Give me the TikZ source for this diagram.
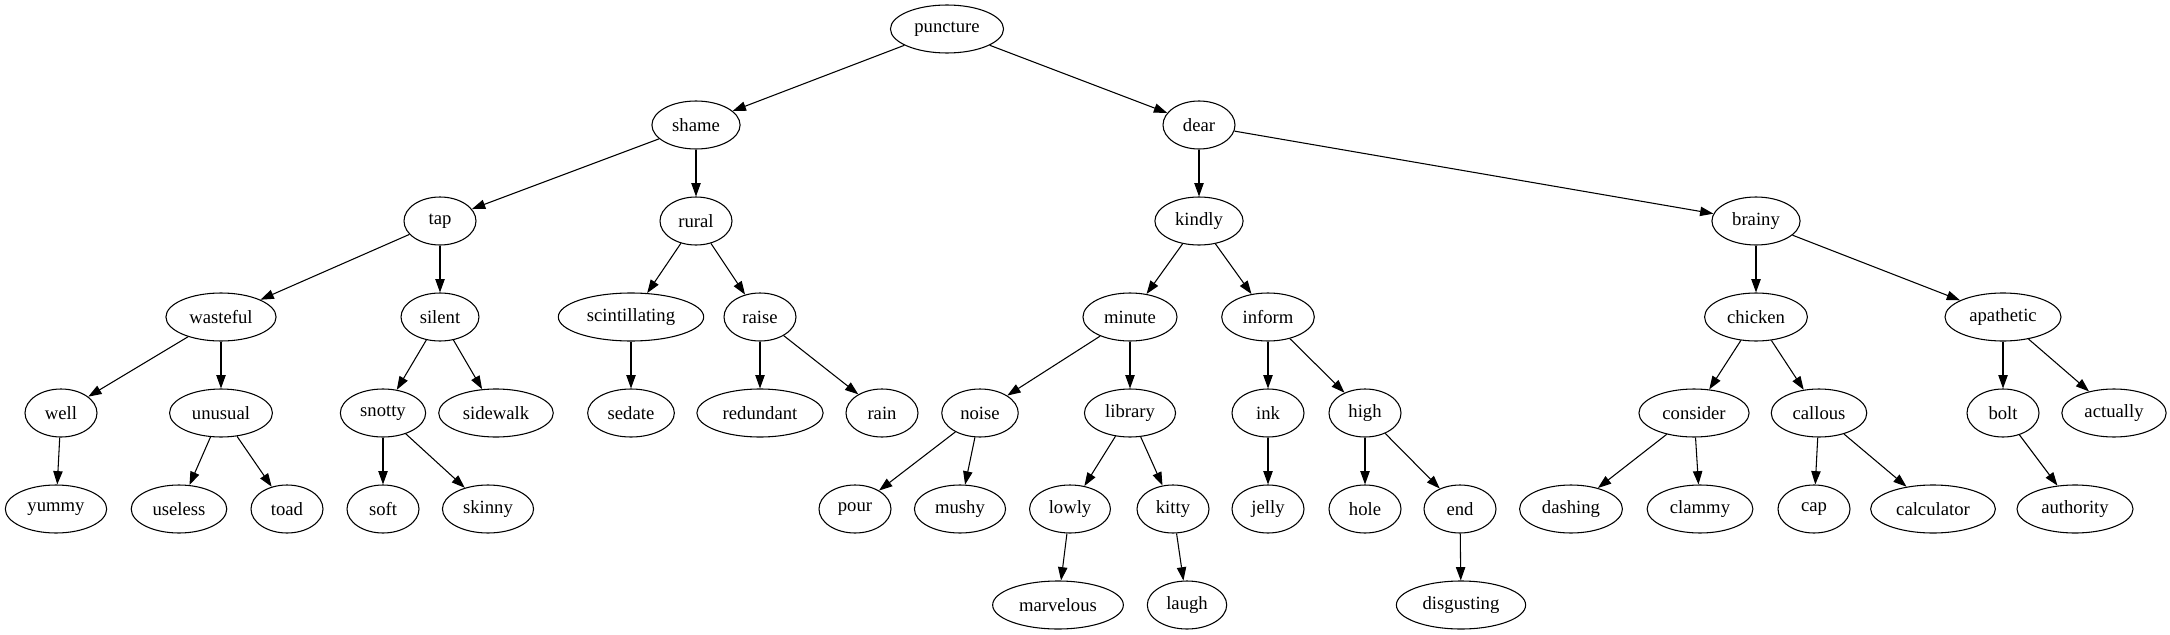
\documentclass[tikz,border=0pt]{standalone}
\usepackage{fontspec}
\setmainfont{Liberation Serif}
\usepackage{tikz}
\usetikzlibrary{arrows.meta, shapes.geometric}

\begin{document}
\begin{tikzpicture}[
  x=0.75pt, y=0.75pt,
  word/.style={draw, ellipse, line width=0.8pt, minimum width=54pt, minimum height=36pt,
    inner xsep=5.5pt, inner ysep=1pt, font=\fontsize{14pt}{16pt}\selectfont},
  edge/.style={-{Triangle[length=10pt, width=7pt]}, line width=0.8pt},
]

% --- Canvas ---
\useasboundingbox (0, 0) rectangle (2170, -635);

% Row heights (one per rank)
\def\rowA{-29}
\def\rowB{-125}
\def\rowC{-221}
\def\rowD{-317}
\def\rowE{-413}
\def\rowF{-509}
\def\rowG{-605}

% Rank 1
\node[word] (puncture) at (947, \rowA) {puncture};

% Rank 2
\node[word] (shame) at (696, \rowB) {shame};
\node[word] (dear) at (1199, \rowB) {dear};

% Rank 3
\node[word] (tap) at (440, \rowC) {tap};
\node[word] (rural) at (696, \rowC) {rural};
\node[word] (kindly) at (1199, \rowC) {kindly};
\node[word] (brainy) at (1756, \rowC) {brainy};

% Rank 4
\node[word] (wasteful) at (221, \rowD) {wasteful};
\node[word] (silent) at (440, \rowD) {silent};
\node[word] (scintillating) at (631, \rowD) {scintillating};
\node[word] (raise) at (760, \rowD) {raise};
\node[word] (minute) at (1130, \rowD) {minute};
\node[word] (inform) at (1268, \rowD) {inform};
\node[word] (chicken) at (1756, \rowD) {chicken};
\node[word] (apathetic) at (2003, \rowD) {apathetic};

% Rank 5
\node[word] (well) at (61, \rowE) {well};
\node[word] (unusual) at (221, \rowE) {unusual};
\node[word] (snotty) at (383, \rowE) {snotty};
\node[word] (sidewalk) at (496, \rowE) {sidewalk};
\node[word] (sedate) at (631, \rowE) {sedate};
\node[word] (redundant) at (760, \rowE) {redundant};
\node[word] (rain) at (882, \rowE) {rain};
\node[word] (noise) at (980, \rowE) {noise};
\node[word] (library) at (1130, \rowE) {library};
\node[word] (ink) at (1268, \rowE) {ink};
\node[word] (high) at (1365, \rowE) {high};
\node[word] (consider) at (1694, \rowE) {consider};
\node[word] (callous) at (1819, \rowE) {callous};
\node[word] (bolt) at (2003, \rowE) {bolt};
\node[word] (actually) at (2114, \rowE) {actually};

% Rank 6
\node[word] (yummy) at (56, \rowF) {yummy};
\node[word] (useless) at (179, \rowF) {useless};
\node[word] (toad) at (287, \rowF) {toad};
\node[word] (soft) at (383, \rowF) {soft};
\node[word] (skinny) at (488, \rowF) {skinny};
\node[word] (pour) at (855, \rowF) {pour};
\node[word] (mushy) at (960, \rowF) {mushy};
\node[word] (lowly) at (1070, \rowF) {lowly};
\node[word] (kitty) at (1173, \rowF) {kitty};
\node[word] (jelly) at (1268, \rowF) {jelly};
\node[word] (hole) at (1365, \rowF) {hole};
\node[word] (end) at (1460, \rowF) {end};
\node[word] (dashing) at (1571, \rowF) {dashing};
\node[word] (clammy) at (1700, \rowF) {clammy};
\node[word] (cap) at (1814, \rowF) {cap};
\node[word] (calculator) at (1933, \rowF) {calculator};
\node[word] (authority) at (2075, \rowF) {authority};

% Rank 7
\node[word] (marvelous) at (1058, \rowG) {marvelous};
\node[word] (laugh) at (1187, \rowG) {laugh};
\node[word] (disgusting) at (1461, \rowG) {disgusting};

% --- Edges ---
\draw[edge] (puncture) -- (shame);
\draw[edge] (puncture) -- (dear);
\draw[edge] (shame) -- (tap);
\draw[edge] (shame) -- (rural);
\draw[edge] (dear) -- (kindly);
\draw[edge] (dear) -- (brainy);
\draw[edge] (tap) -- (wasteful);
\draw[edge] (tap) -- (silent);
\draw[edge] (rural) -- (scintillating);
\draw[edge] (rural) -- (raise);
\draw[edge] (kindly) -- (minute);
\draw[edge] (kindly) -- (inform);
\draw[edge] (brainy) -- (chicken);
\draw[edge] (brainy) -- (apathetic);
\draw[edge] (wasteful) -- (well);
\draw[edge] (wasteful) -- (unusual);
\draw[edge] (silent) -- (snotty);
\draw[edge] (silent) -- (sidewalk);
\draw[edge] (scintillating) -- (sedate);
\draw[edge] (raise) -- (redundant);
\draw[edge] (raise) -- (rain);
\draw[edge] (minute) -- (noise);
\draw[edge] (minute) -- (library);
\draw[edge] (inform) -- (ink);
\draw[edge] (inform) -- (high);
\draw[edge] (chicken) -- (consider);
\draw[edge] (chicken) -- (callous);
\draw[edge] (apathetic) -- (bolt);
\draw[edge] (apathetic) -- (actually);
\draw[edge] (well) -- (yummy);
\draw[edge] (unusual) -- (useless);
\draw[edge] (unusual) -- (toad);
\draw[edge] (snotty) -- (soft);
\draw[edge] (snotty) -- (skinny);
\draw[edge] (noise) -- (pour);
\draw[edge] (noise) -- (mushy);
\draw[edge] (library) -- (lowly);
\draw[edge] (library) -- (kitty);
\draw[edge] (ink) -- (jelly);
\draw[edge] (high) -- (hole);
\draw[edge] (high) -- (end);
\draw[edge] (consider) -- (dashing);
\draw[edge] (consider) -- (clammy);
\draw[edge] (callous) -- (cap);
\draw[edge] (callous) -- (calculator);
\draw[edge] (bolt) -- (authority);
\draw[edge] (lowly) -- (marvelous);
\draw[edge] (kitty) -- (laugh);
\draw[edge] (end) -- (disgusting);

\end{tikzpicture}
\end{document}
